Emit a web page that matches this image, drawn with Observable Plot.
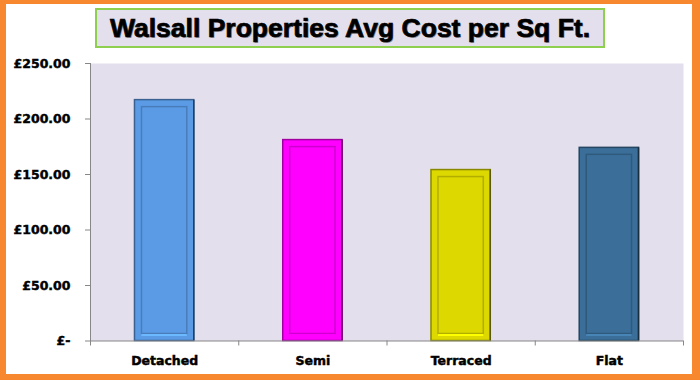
<!DOCTYPE html>
<html>
<head>
<meta charset="utf-8">
<script src="https://cdn.jsdelivr.net/npm/d3@7"></script>
<script src="https://cdn.jsdelivr.net/npm/@observablehq/plot@0.6"></script>
<style>
  html, body { margin: 0; padding: 0; background: #fff; }
  #wrap { position: relative; width: 700px; height: 380px; overflow: hidden; background: #fff; }
  #frame { position: absolute; left: 0; top: 0; width: 700px; height: 380px; box-sizing: border-box;
           border-style: solid; border-color: #f7882f; border-width: 4px 8px 6px 6px; pointer-events: none; }
  #title { position: absolute; left: 95px; top: 8px; width: 510px; height: 40px; box-sizing: border-box;
           border: 2.5px solid #8fcf50; background: #e4dfec; display: flex; align-items: center; justify-content: center;
           font-family: "Liberation Sans", Arial, sans-serif; font-weight: bold; font-size: 26.5px; color: #000;
           -webkit-text-stroke: 0.7px #000;
           text-shadow: 1px 1px 0 rgba(0,0,0,0.35); white-space: nowrap; }
  #chart { position: absolute; left: 0; top: 0; }
  #chart svg g[aria-label="y-axis tick label"] text,
  #chart svg g[aria-label="x-axis tick label"] text { stroke: #000; stroke-width: 0.45px; }
</style>
</head>
<body>
<div id="wrap">
  <div id="chart"></div>
  <div id="title">Walsall Properties Avg Cost per Sq Ft.</div>
  <div id="frame"></div>
</div>
<script>
const categories = ["Detached", "Semi", "Terraced", "Flat"];
const values = [217, 181, 154, 174];
const colors = ["#5b9be6", "#ff00ff", "#dcd800", "#3b6f99"];
const yTicks = [0, 50, 100, 150, 200, 250];
const yTickLabels = ["£-", "£50.00", "£100.00", "£150.00", "£200.00", "£250.00"];

const rows = categories.map((c, i) => ({
  category: c, i, value: values[i], color: colors[i],
  dark: d3.color(colors[i]).darker(1.3).formatHex(),
  mid: d3.color(colors[i]).darker(0.6).formatHex(),
  light: d3.color(colors[i]).brighter(0.5).formatHex(),
  edge: d3.color(colors[i]).darker(2.5).formatHex()
}));

const gray = "#878787";

const chart = Plot.plot({
  width: 700,
  height: 380,
  marginTop: 63,
  marginBottom: 39.5,
  marginLeft: 90,
  marginRight: 17,
  x: { domain: [0, categories.length], label: null },
  y: { domain: [0, 250], label: null },
  color: { type: "identity" },
  style: { background: "transparent", fontFamily: "DejaVu Sans, Verdana, sans-serif", fontWeight: "bold", fontSize: "12.5px", color: "#000" },
  marks: [
    Plot.frame({ fill: "#e4dfec", stroke: null }),
    Plot.rectY(rows, { x1: d => d.i + 0.3, x2: d => d.i + 0.7, y1: 0, y2: "value", fill: "color", stroke: "dark", strokeWidth: 1.5 }),
    Plot.rectY(rows, { x1: d => d.i + 0.3, x2: d => d.i + 0.7, y1: 0, y2: "value", fill: "none", stroke: "mid", strokeWidth: 1.5,
                       insetLeft: 7, insetRight: 7, insetTop: 7, insetBottom: 7 }),
    Plot.ruleY(rows, { y: 0, x1: d => d.i + 0.3, x2: d => d.i + 0.7, stroke: "light", strokeWidth: 2, dy: -6, insetLeft: 7, insetRight: 7 }),
    Plot.ruleX(rows, { x: d => d.i + 0.7, y1: 0, y2: "value", stroke: "edge", strokeWidth: 1.5, dx: -0.5 }),
    Plot.ruleY([0], { stroke: gray, strokeWidth: 1 }),
    Plot.frame({ anchor: "left", stroke: gray, strokeWidth: 1 }),
    Plot.axisY({ ticks: yTicks, tickFormat: v => yTickLabels[yTicks.indexOf(v)], tickSize: 5, tickPadding: 15, stroke: gray, fill: "#000" }),
    Plot.axisX({ ticks: d3.range(categories.length + 1), tickFormat: () => "", tickSize: 5, stroke: gray }),
    Plot.axisX({ ticks: categories.map((c, i) => i + 0.5), tickFormat: v => categories[Math.floor(v)], tickSize: 0, tickPadding: 15.5, fill: "#000" })
  ]
});
document.getElementById("chart").appendChild(chart);
</script>
</body>
</html>
